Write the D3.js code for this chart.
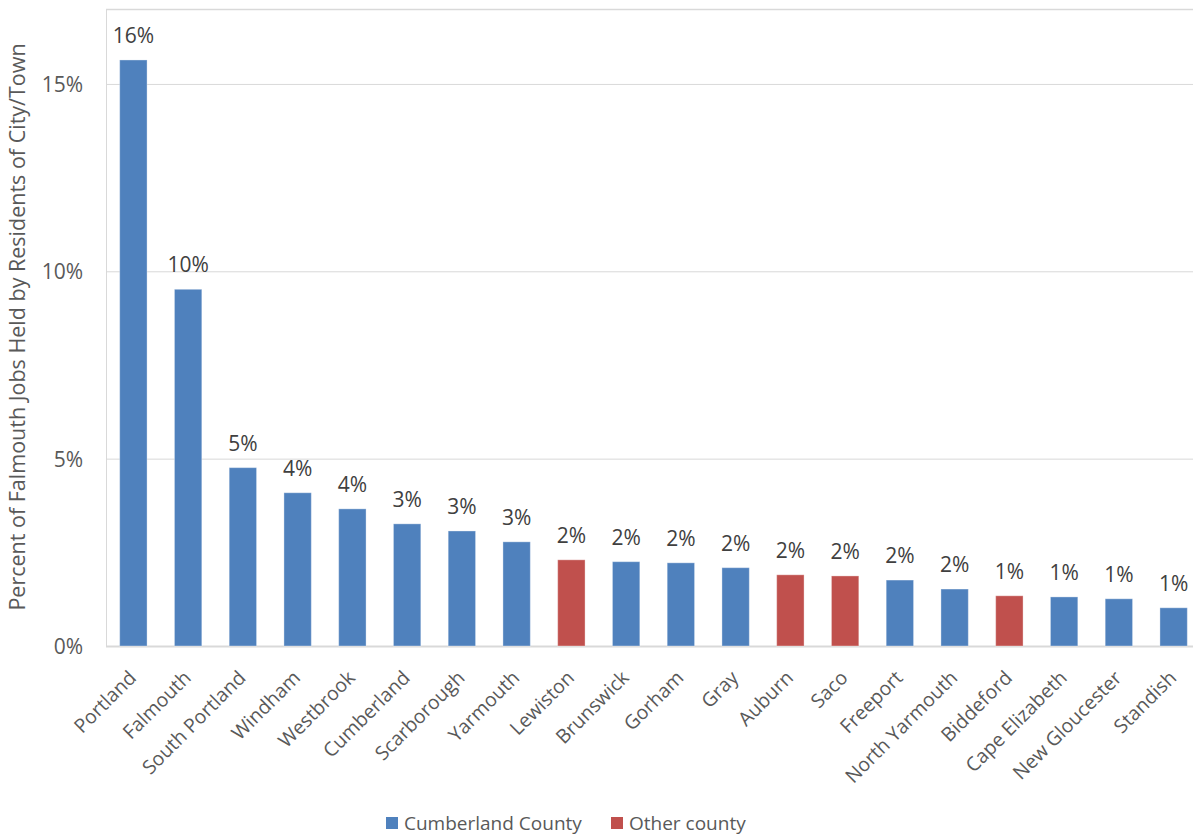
<!DOCTYPE html>
<html>
<head>
<meta charset="utf-8">
<script src="https://cdn.jsdelivr.net/npm/d3@7"></script>
<style>
  html, body { margin: 0; padding: 0; background: #fff; }
  svg { display: block; font-family: "Open Sans", sans-serif; }
</style>
</head>
<body>
<svg id="chart" width="1193" height="836"></svg>
<script>
// Share of Falmouth jobs held by residents of each city/town (percent)
const towns = ["Portland", "Falmouth", "South Portland", "Windham", "Westbrook", "Cumberland",
  "Scarborough", "Yarmouth", "Lewiston", "Brunswick", "Gorham", "Gray", "Auburn", "Saco",
  "Freeport", "North Yarmouth", "Biddeford", "Cape Elizabeth", "New Gloucester", "Standish"];
const shares = [15.64, 9.52, 4.76, 4.09, 3.66, 3.26, 3.07, 2.78, 2.30, 2.25, 2.22, 2.09,
  1.90, 1.87, 1.76, 1.52, 1.34, 1.31, 1.26, 1.02];
const county = ["Cumberland County", "Cumberland County", "Cumberland County", "Cumberland County",
  "Cumberland County", "Cumberland County", "Cumberland County", "Cumberland County", "Other county",
  "Cumberland County", "Cumberland County", "Cumberland County", "Other county", "Other county",
  "Cumberland County", "Cumberland County", "Other county", "Cumberland County", "Cumberland County",
  "Cumberland County"];
const groups = ["Cumberland County", "Other county"];
const yTicks = [0, 5, 10, 15];
const yTitle = "Percent of Falmouth Jobs Held by Residents of City/Town";

const data = towns.map((t, i) => ({ town: t, value: shares[i], group: county[i] }));

const svg = d3.select("#chart");
const plot = { left: 106, top: 9, right: 1201, bottom: 646 };

const x = d3.scaleBand().domain(towns).range([plot.left, plot.right]).paddingInner(0.5).paddingOuter(0.25);
const y = d3.scaleLinear().domain([0, 17]).range([plot.bottom, plot.top]);
const color = d3.scaleOrdinal().domain(groups).range(["#4F81BD", "#C0504D"]);

// plot frame and gridlines
svg.append("line").attr("x1", plot.left).attr("x2", plot.right)
  .attr("y1", plot.top + 0.5).attr("y2", plot.top + 0.5)
  .attr("stroke", "#D9D9D9").attr("stroke-width", 1.5);
svg.append("line").attr("x1", plot.left + 0.5).attr("x2", plot.left + 0.5)
  .attr("y1", plot.top).attr("y2", plot.bottom)
  .attr("stroke", "#D9D9D9").attr("stroke-width", 1);

const yAxis = d3.axisLeft(y).tickValues(yTicks).tickSize(0).tickPadding(23).tickFormat(d => d + "%");
const gy = svg.append("g").attr("transform", `translate(${plot.left},0)`).call(yAxis);
gy.select(".domain").remove();
gy.selectAll(".tick text").attr("fill", "#595959").style("font-size", "21px")
  .style("font-family", "'Open Sans', sans-serif").attr("dy", "0.35em");
gy.selectAll(".tick").append("line")
  .attr("x1", 0).attr("x2", plot.right - plot.left)
  .attr("stroke", "#D9D9D9").attr("stroke-width", d => d === 0 ? 2 : 1);

// bars
svg.append("g").selectAll("rect").data(data).join("rect")
  .attr("x", d => x(d.town))
  .attr("width", x.bandwidth())
  .attr("y", d => y(d.value))
  .attr("height", d => y(0) - y(d.value))
  .attr("fill", d => color(d.group))
  .attr("stroke", "rgba(255,255,255,0.35)")
  .attr("stroke-width", 1);

// value labels
svg.append("g").selectAll("text").data(data).join("text")
  .attr("x", d => x(d.town) + x.bandwidth() / 2)
  .attr("y", d => y(d.value) - 17)
  .attr("text-anchor", "middle")
  .attr("fill", "#404040")
  .style("font-size", "21px")
  .text(d => Math.round(d.value) + "%");

// category labels, rotated
const xAxis = d3.axisBottom(x).tickSize(0).tickPadding(0);
const gx = svg.append("g").attr("transform", `translate(0,${plot.bottom})`).call(xAxis);
gx.select(".domain").remove();
gx.selectAll(".tick text")
  .attr("fill", "#595959").style("font-size", "19.5px")
  .style("font-family", "'Open Sans', sans-serif")
  .attr("text-anchor", "end")
  .attr("dy", null).attr("y", 0)
  .attr("transform", "translate(4,33) rotate(-45)");

// y axis title
svg.append("text")
  .attr("transform", `translate(25,327) rotate(-90)`)
  .attr("text-anchor", "middle")
  .attr("fill", "#595959")
  .style("font-size", "21.5px")
  .text(yTitle);

// legend
const legend = svg.append("g").attr("transform", "translate(386,817)");
const items = legend.selectAll("g").data(groups).join("g")
  .attr("transform", (d, i) => `translate(${i * 225},0)`);
items.append("rect").attr("width", 12).attr("height", 12).attr("fill", d => color(d));
items.append("text").attr("x", 18).attr("y", 13).attr("fill", "#595959")
  .style("font-size", "19px").text(d => d);
</script>
</body>
</html>
